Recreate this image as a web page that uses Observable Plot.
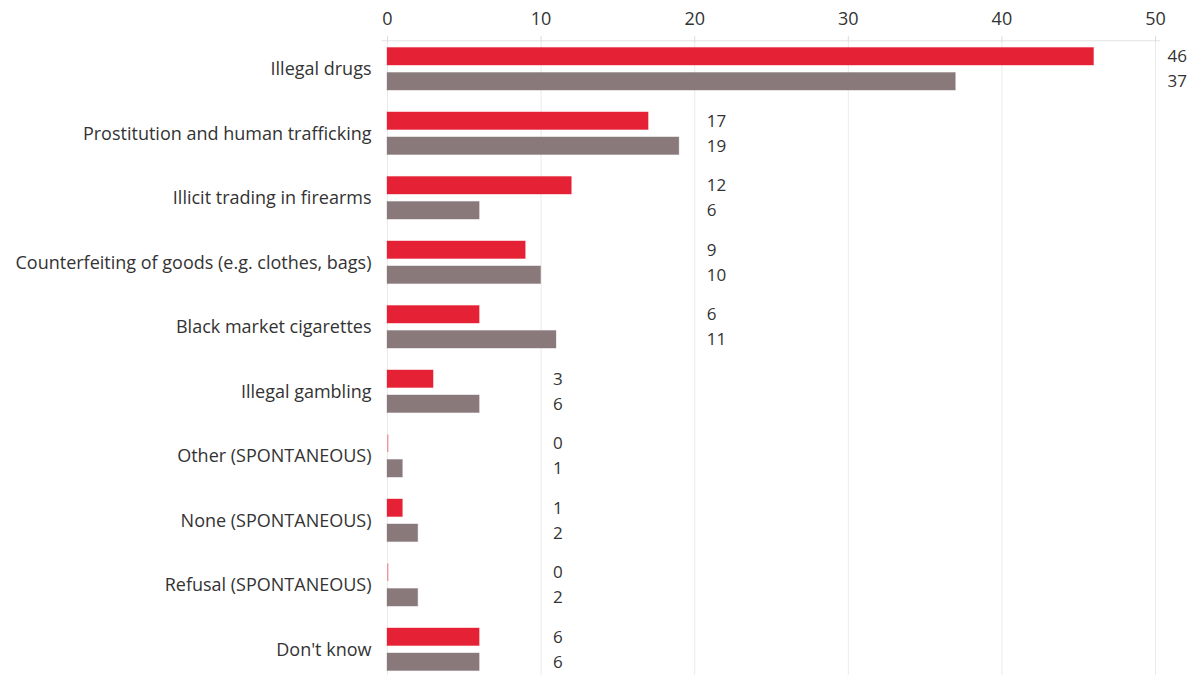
<!DOCTYPE html>
<html>
<head>
<meta charset="utf-8">
<script src="https://cdn.jsdelivr.net/npm/d3@7"></script>
<script src="https://cdn.jsdelivr.net/npm/@observablehq/plot@0.6"></script>
<style>
  html, body { margin: 0; padding: 0; background: #fff; }
  #chart { width: 1200px; height: 675px; overflow: hidden; }
</style>
</head>
<body>
<div id="chart"></div>
<script>
const categories = [
  "Illegal drugs",
  "Prostitution and human trafficking",
  "Illicit trading in firearms",
  "Counterfeiting of goods (e.g. clothes, bags)",
  "Black market cigarettes",
  "Illegal gambling",
  "Other (SPONTANEOUS)",
  "None (SPONTANEOUS)",
  "Refusal (SPONTANEOUS)",
  "Don't know"
];
const seriesAValues = [46, 17, 12, 9, 6, 3, 0, 1, 0, 6];
const seriesBValues = [37, 19, 6, 10, 11, 6, 1, 2, 2, 6];
const xTicks = [0, 10, 20, 30, 40, 50];

const RED = "#e52135";
const GREY = "#89797b";
const TEXT = "#333333";

const rowsA = categories.map((c, i) => ({category: c, value: seriesAValues[i]}));
const rowsB = categories.map((c, i) => ({category: c, value: seriesBValues[i]}));
// label column: next gridline above the larger value of the pair
const labelCol = categories.map((c, i) => Math.ceil((Math.max(seriesAValues[i], seriesBValues[i]) + 0.5) / 10) * 10);
const labA = rowsA.map((d, i) => ({...d, lx: labelCol[i]}));
const labB = rowsB.map((d, i) => ({...d, lx: labelCol[i]}));

const BAND_INSET = 25;

const plot = Plot.plot({
  width: 1200,
  height: 675,
  marginLeft: 387,
  marginRight: 45,
  marginTop: 41,
  marginBottom: -2,
  style: {fontFamily: "'Open Sans', sans-serif", fontSize: "18px", color: TEXT, background: "#fff"},
  x: {domain: [0, 50], axis: "top", ticks: xTicks, tickSize: 6, tickPadding: 11, grid: true, label: null, tickFormat: d => d},
  y: {domain: categories, paddingInner: 0.34, paddingOuter: 0.1, round: false, tickSize: 0, tickPadding: 16, label: null},
  marks: [
    Plot.ruleY([categories[0]], {x1: -0.35, x2: 50.35, dy: -28.5, stroke: "#e2e2e2"}),
    Plot.barX(rowsA, {y: "category", x: "value", fill: RED, stroke: RED, strokeOpacity: 0.35, insetBottom: BAND_INSET}),
    // zero values still show a faint sliver at the baseline
    Plot.barX(rowsA.filter(d => d.value === 0), {y: "category", x: "value", fill: RED, fillOpacity: 0.4, insetRight: -1.5, insetBottom: BAND_INSET}),
    Plot.barX(rowsB, {y: "category", x: "value", fill: GREY, stroke: GREY, strokeOpacity: 0.35, insetTop: BAND_INSET}),
    Plot.text(labA, {y: "category", x: "lx", text: d => String(d.value), textAnchor: "start", dx: 12, dy: -12.5, fill: TEXT, fontSize: 17}),
    Plot.text(labB, {y: "category", x: "lx", text: d => String(d.value), textAnchor: "start", dx: 12, dy: 12.5, fill: TEXT, fontSize: 17})
  ]
});

// lighten the x tick marks so they read as grid extensions
d3.select(plot).selectAll('[aria-label="x-axis"] line, [aria-label="x-axis tick"] path').attr("stroke", "#dcdcdc");
document.getElementById("chart").appendChild(plot);
</script>
</body>
</html>
